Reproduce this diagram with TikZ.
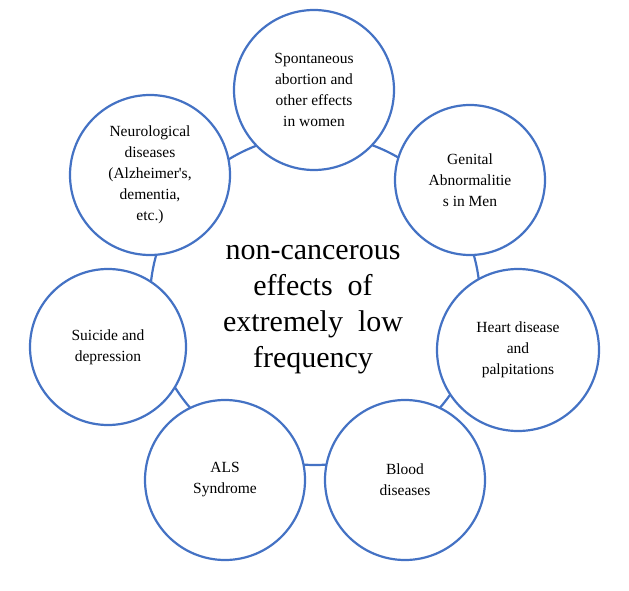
\documentclass[tikz,border=0pt]{standalone}
\usepackage{fontspec}
\setmainfont{Liberation Serif}
\begin{document}
\begin{tikzpicture}[x=1pt,y=-1pt,
  ring/.style={draw=blu,line width=2.2pt,fill=white,circle,minimum size=#1,inner sep=0pt,align=center,font=\fontsize{15.5}{21}\selectfont}]
\definecolor{blu}{HTML}{4472C4}
\useasboundingbox (0,0) rectangle (629,591);
\node[circle,draw=blu,line width=2.2pt,minimum size=330pt,inner sep=0pt] (c) at (315,300) {};
\node[align=center,font=\fontsize{30}{36}\selectfont] (t) at (313,310) {non-cancerous\\effects\ \ of\\extremely\ \ low\\frequency};
\node[ring=160pt] (a) at (314,90) {Spontaneous\\abortion and\\other effects\\in women};
\node[ring=150pt] (b) at (470,180) {Genital\\Abnormalitie\\s in Men};
\node[ring=162pt] (h) at (518,350) {Heart disease\\and\\palpitations};
\node[ring=160pt] (bl) at (405,480) {Blood\\diseases};
\node[ring=160pt] (al) at (225,480) {ALS\\Syndrome};
\node[ring=156pt] (s) at (108,347) {Suicide and\\depression};
\node[ring=160pt] (n) at (150,175) {Neurological\\diseases\\(Alzheimer\textquotesingle s,\\dementia,\\etc.)};
\end{tikzpicture}
\end{document}
